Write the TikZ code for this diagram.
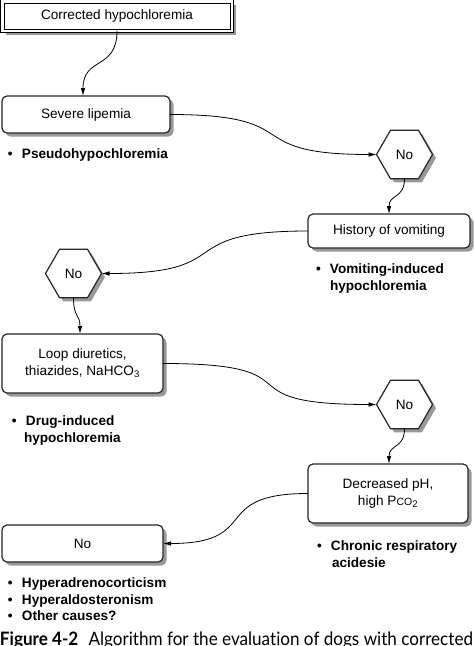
\documentclass[tikz,border=0pt]{standalone}
\usepackage{fontspec}
\setmainfont{Liberation Sans}
\newfontfamily\capfont[Ligatures=NoCommon]{Lato}
\usetikzlibrary{shapes.geometric,shadows,arrows.meta}
\begin{document}
\begin{tikzpicture}[x=1pt,y=-1pt,
  every node/.style={font=\fontsize{13.6}{17}\selectfont, inner sep=0pt, outer sep=0pt},
  shad/.style={drop shadow={shadow xshift=3.5pt,shadow yshift=-3.5pt,fill=black!40,opacity=1}},
  rbox/.style={draw=black!85,line width=1.2pt,fill=white,rounded corners=5pt,shad,align=center},
  hexa/.style={regular polygon,regular polygon sides=6,minimum size=56pt,draw=black!85,line width=1.2pt,fill=white,shad},
  conn/.style={line width=0.8pt,-{Latex[length=8pt,width=4.5pt]}},
  bul/.style={anchor=base west,font=\fontsize{13.6}{17}\selectfont\bfseries},
]
\useasboundingbox (0,0) rectangle (474,646);
\fill[white] (0,0) rectangle (474,646);

% top box
\node[draw=black,line width=1pt,double=white,double distance=2.5pt,fill=white,
      drop shadow={shadow xshift=4pt,shadow yshift=-4pt,fill=black!40,opacity=1},
      minimum width=229.5pt,minimum height=29.5pt] (top) at (117,16) {Corrected hypochloremia};

\node[rbox,minimum width=168pt,minimum height=37pt] (severe) at (86,114.5) {Severe lipemia};
\node[bul] (b1) at (8,158) {\makebox[14pt][l]{\textbullet}Pseudohypochloremia};

\node[hexa] (hex1) at (404.5,154.5) {No};

\node[rbox,minimum width=162pt,minimum height=34pt] (hist) at (389,231) {History of vomiting};
\node[bul] (b2) at (316,273) {\makebox[14pt][l]{\textbullet}Vomiting-induced};
\node[bul] (b2b) at (330,290) {hypochloremia};

\node[hexa] (hex2) at (73.5,273.5) {No};

\node[rbox,minimum width=161pt,minimum height=59pt] (loop) at (82.5,363.5) {Loop diuretics,\\thiazides, NaHCO\textsubscript{3}};
\node[bul] (b3) at (12,425) {\makebox[14pt][l]{\textbullet}Drug-induced};
\node[bul] (b3b) at (24,442) {hypochloremia};

\node[hexa] (hex3) at (404.5,404.5) {No};

\node[rbox,minimum width=160pt,minimum height=59pt] (dec) at (388,493.5) {Decreased pH,\\high P{\fontsize{10.5}{12}\selectfont CO}\textsubscript{2}};
\node[bul] (b4) at (317,550) {\makebox[14pt][l]{\textbullet}Chronic respiratory};
\node[bul] (b4b) at (332,567) {acidesie};

\node[rbox,minimum width=161pt,minimum height=37pt] (nobox) at (82.5,543.5) {No};
\node[bul] (b5) at (8,587) {\makebox[14pt][l]{\textbullet}Hyperadrenocorticism};
\node[bul] (b6) at (8,604) {\makebox[14pt][l]{\textbullet}Hyperaldosteronism};
\node[bul] (b7) at (8,620) {\makebox[14pt][l]{\textbullet}Other causes?};

\node[anchor=base west,font=\capfont\fontsize{18.5}{20}\selectfont] (cap) at (0,645)
  {\resizebox{473pt}{\height}{\textbf{Figure 4-2}\hspace{0.6em}Algorithm for the evaluation of dogs with corrected}};

% connectors
\draw[conn] (top.south) .. controls +(0,40) and +(0,-40) .. ([xshift=-3pt]severe.north);
\draw[conn] (severe.east) .. controls +(140,0) and +(-140,0) .. (hex1.west);
\draw[conn] (hex1.south) .. controls +(0,20) and +(0,-20) .. (hist.north);
\draw[conn] (hist.west) .. controls +(-140,0) and +(140,0) .. (hex2.east);
\draw[conn] (hex2.south) .. controls +(0,20) and +(0,-20) .. ([xshift=-2.5pt]loop.north);
\draw[conn] (loop.east) .. controls +(160,0) and +(-160,0) .. (hex3.west);
\draw[conn] (hex3.south) .. controls +(0,20) and +(0,-20) .. ([xshift=1pt]dec.north);
\draw[conn] (dec.west) .. controls +(-100,0) and +(100,0) .. (nobox.east);
\end{tikzpicture}
\end{document}
